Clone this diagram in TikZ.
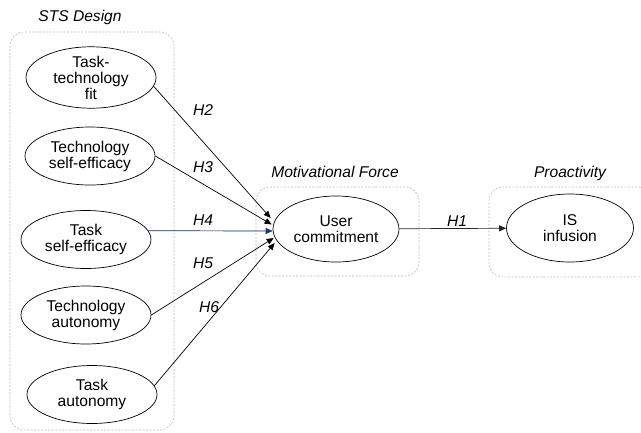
\documentclass[tikz,border=0pt]{standalone}
\usepackage{fontspec}
\setmainfont{Liberation Sans}
\usetikzlibrary{shapes.geometric,arrows.meta}
\definecolor{hblue}{HTML}{1F3A6B}
\definecolor{boxgray}{HTML}{BBBBBB}
\begin{document}
\begin{tikzpicture}[x=1pt,y=-1pt,
  cons/.style={ellipse,draw,line width=0.7pt,inner sep=0pt,minimum width=130,minimum height=58,align=center,
    font=\fontsize{15.6}{16}\selectfont},
  grp/.style={draw=boxgray,dashed,dash pattern=on 2pt off 1.5pt,line width=0.6pt,rounded corners=14pt,inner sep=0pt},
  grplabel/.style={inner sep=1pt,font=\fontsize{15.6}{16}\selectfont\itshape},
  hyp/.style={line width=0.7pt,-{Triangle[length=7pt,width=6pt]}},
  hlabel/.style={inner sep=1pt,font=\fontsize{15.6}{16}\selectfont\itshape}]
\useasboundingbox (0,0) rectangle (641,432);
% groups
\node[grp,minimum width=164,minimum height=398] (stsbox) at (92,231) {};
\node[grp,minimum width=163,minimum height=89] (mfbox) at (337.5,231.5) {};
\node[grp,minimum width=162,minimum height=90] (probox) at (570,232) {};
\node[grplabel] (stslab) at (80,17) {STS Design};
\node[grplabel] (mflab) at (335,172) {Motivational Force};
\node[grplabel] (prolab) at (570,173) {Proactivity};
% constructs
\node[cons] (ttf) at (91,77.5) {Task-\\technology\\fit};
\node[cons] (tecse) at (90,156) {Technology\\self-efficacy};
\node[cons] (tasse) at (86,239.5) {Task\\self-efficacy};
\node[cons] (tecaut) at (86,315) {Technology\\autonomy};
\node[cons] (tasaut) at (92,394.5) {Task\\autonomy};
\node[cons,minimum width=126,minimum height=66] (uc) at (336,229) {User\\commitment};
\node[cons,minimum width=127,minimum height=68] (isi) at (570,228) {IS\\infusion};
% hypotheses
\draw[hyp] (ttf.-8) to ([xshift=-2pt,yshift=11pt]uc.west);
\draw[hyp] (tecse.east) to ([xshift=-1pt,yshift=4.5pt]uc.west);
\draw[hyp,draw=hblue,fill=hblue] (tasse.8) to ([yshift=-2pt]uc.west);
\draw[hyp] (tecaut.east) to ([xshift=1pt,yshift=-9pt]uc.west);
\draw[hyp] (tasaut.8) to ([xshift=2pt,yshift=-14pt]uc.west);
\draw[hyp,draw=black!85] (uc) to (isi);
\node[hlabel] (h2) at (203,110) {H2};
\node[hlabel] (h3) at (203,167) {H3};
\node[hlabel] (h4) at (203,220) {H4};
\node[hlabel] (h5) at (203,263) {H5};
\node[hlabel] (h6) at (209,307) {H6};
\node[hlabel] (h1) at (457,221) {H1};
\end{tikzpicture}
\end{document}
